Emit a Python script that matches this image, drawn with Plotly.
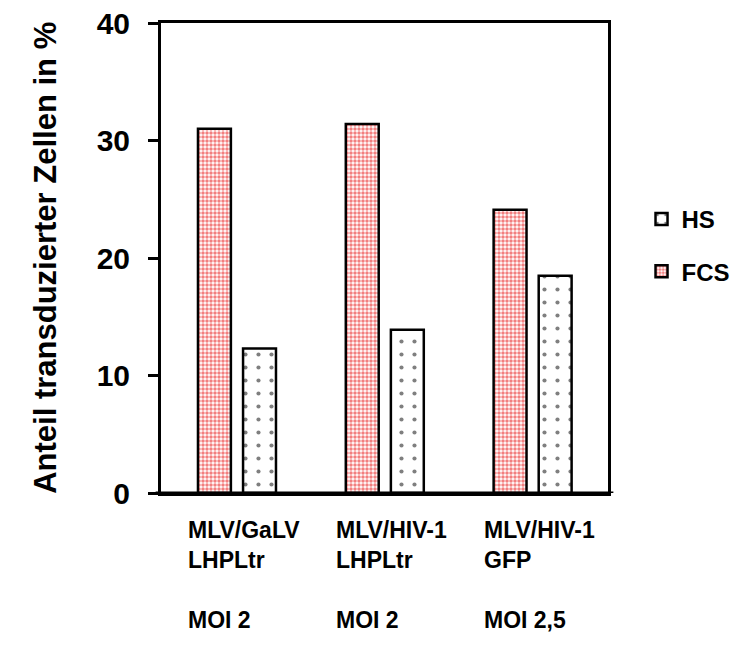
import plotly.graph_objects as go

categories = ["MLV/GaLV<br>LHPLtr", "MLV/HIV-1<br>LHPLtr", "MLV/HIV-1<br>GFP"]
moi_labels = ["MOI 2", "MOI 2", "MOI 2,5"]
fcs_values = [31.0, 31.4, 24.1]
hs_values = [12.3, 13.9, 18.5]
y_ticks = [0, 10, 20, 30, 40]
y_title = "Anteil transduzierter Zellen in %"

FONT = "Liberation Sans, Arial, sans-serif"

fig = go.Figure()
fig.add_trace(go.Bar(
    name="<b>FCS</b>", x=categories, y=fcs_values, legendgroup="fcs",
    legendrank=2,
    marker=dict(color="white", line=dict(color="black", width=2.5),
                pattern=dict(shape=".", fgcolor="#e60000", bgcolor="white",
                             size=4, solidity=0.6)),
))
fig.add_trace(go.Bar(
    name="<b>HS</b>", x=categories, y=hs_values, legendgroup="hs",
    legendrank=1,
    marker=dict(color="white", line=dict(color="black", width=2.5),
                pattern=dict(shape=".", fgcolor="black", bgcolor="white",
                             size=13, solidity=0.08)),
))

for cat, moi in zip(categories, moi_labels):
    fig.add_annotation(x=cat, xref="x", y=0, yref="paper", yshift=-22,
                       xanchor="left", xshift=-51, yanchor="top", align="left",
                       text="<b>" + cat.replace("<br>", "</b><br><b>") + "</b>",
                       showarrow=False,
                       font=dict(family=FONT, size=23, color="black"))
    fig.add_annotation(x=cat, xref="x", y=0, yref="paper", yshift=-112,
                       xanchor="left", xshift=-51, yanchor="top", align="left",
                       text="<b>" + moi + "</b>", showarrow=False,
                       font=dict(family=FONT, size=23, color="black"))

# y-axis title
fig.add_annotation(x=-0.26, xref="paper", y=0.5, yref="paper",
                   xanchor="center", yanchor="middle", textangle=-90,
                   text="<b>" + y_title + "</b>", showarrow=False,
                   font=dict(family=FONT, size=31, color="black"))

# long baseline under the bars (extends slightly beyond the frame)
fig.add_shape(type="line", xref="paper", yref="y", x0=-0.012, x1=1.012,
              y0=0, y1=0, line=dict(color="black", width=3))

fig.update_layout(
    width=740, height=661,
    margin=dict(l=153, r=140, t=15, b=176, autoexpand=False),
    paper_bgcolor="white", plot_bgcolor="white",
    barmode="group", bargap=0.39, bargroupgap=0.27,
    font=dict(family=FONT, color="black"),
    showlegend=True,
    legend=dict(x=1.075, y=0.63, xanchor="left", yanchor="top",
                traceorder="grouped", tracegroupgap=18,
                font=dict(family=FONT, size=24, color="black"),
                bgcolor="rgba(0,0,0,0)"),
    xaxis=dict(range=[-0.514, 2.51], showticklabels=False, ticks="",
               showline=True, linecolor="black", linewidth=3, mirror=True,
               showgrid=False, zeroline=False, fixedrange=True),
    yaxis=dict(range=[0, 40], tickvals=y_ticks,
               ticktext=["<b>%d</b>" % v for v in y_ticks],
               ticks="outside", ticklen=10, tickwidth=2.5, tickcolor="black",
               ticklabelstandoff=12, ticklabeloverflow="allow",
               tickfont=dict(family=FONT, size=30, color="black"),
               showline=True, linecolor="black", linewidth=3, mirror=True,
               showgrid=False, zeroline=False),
)

fig.write_html("out.html")
